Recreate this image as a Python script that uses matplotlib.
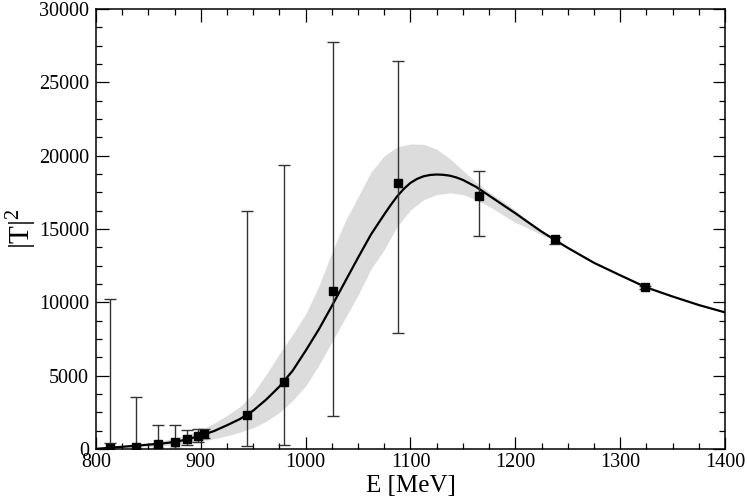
import numpy as np
import matplotlib.pyplot as plt
from matplotlib.ticker import MultipleLocator

plt.rcParams['font.family'] = ['Liberation Serif', 'DejaVu Serif']
plt.rcParams['mathtext.fontset'] = 'custom'
plt.rcParams['mathtext.rm'] = 'Liberation Serif'

# measured points (values and ends of error bars)
E_data = [813, 838, 859, 875, 887, 897, 903, 944, 979, 1026, 1088, 1165, 1238, 1324]
T2_data = [60, 115, 330, 477, 660, 860, 1020, 2318, 4560, 10795, 18114, 17227, 14295, 11023]
T2_hi = [10200, 3560, 1610, 1610, 1280, 1350, 1350, 16227, 19400, 27750, 26455, 18932, 14477, 11130]
T2_lo = [390, 0, 40, 60, 240, 477, 720, 205, 250, 2250, 7932, 14545, 13955, 10920]

# fitted curve
E_fit = [800, 812.5, 825, 837.5, 850, 862.5, 875, 887.5, 900, 912.5, 925, 937.5,
         950, 962.5, 975, 987.5, 1000, 1012.5, 1025, 1037.5, 1050, 1062.5, 1075,
         1081.25, 1087.5, 1093.75, 1100, 1106.25, 1112.5, 1118.75, 1125, 1131.25,
         1137.5, 1143.75, 1150, 1162.5, 1175, 1187.5, 1200,
         1212.5, 1225, 1237.5, 1250, 1275, 1300, 1325, 1350, 1375, 1400]
T2_fit = [10, 80, 150, 225, 295, 370, 480, 660, 920, 1220, 1620, 2050,
          2620, 3380, 4260, 5330, 6700, 8150, 9750, 11400, 13050, 14650, 16000,
          16650, 17250, 17750, 18150, 18420, 18600, 18690, 18720, 18700,
          18640, 18520, 18350, 17880, 17280, 16680, 16080,
          15450, 14830, 14270, 13720, 12700, 11850, 11020, 10400, 9820, 9318]

# uncertainty band
E_band = [800, 825, 850, 875, 900, 912.5, 925, 937.5, 950, 962.5, 975, 987.5,
          1000, 1012.5, 1025, 1037.5, 1050, 1062.5, 1075, 1087.5, 1100, 1112.5,
          1125, 1137.5, 1150, 1162.5, 1175, 1187.5, 1200, 1212.5, 1225, 1237.5, 1250]
band_hi = [40, 200, 400, 720, 1300, 1750, 2300, 2900, 3800, 5100, 6500, 7800,
           9200, 11100, 13400, 15500, 17200, 18900, 20000, 20600, 20800, 20780,
           20450, 19800, 19000, 18200, 17520, 16920, 16300, 15550, 14880, 14270, 13720]
band_lo = [0, 80, 160, 280, 520, 700, 900, 1150, 1450, 1900, 2500, 3300,
           4300, 5700, 7300, 8900, 10500, 12300, 13600, 15200, 16300, 17000,
           17350, 17470, 17350, 17000, 16550, 16000, 15450, 15050, 14600, 14270, 13720]

fig = plt.figure(figsize=(7.47, 5.01), dpi=100)
ax = fig.add_axes([0.1285, 0.1038, 0.842, 0.878])

ax.fill_between(E_band, band_lo, band_hi, color='#dcdcdc', lw=0, zorder=1)
ax.plot(E_fit, T2_fit, color='black', lw=1.6, zorder=2)

# error bars
ax.vlines(E_data, T2_lo, T2_hi, colors='#333333', lw=1.0, zorder=3)
ax.plot(E_data, T2_lo, ls='none', marker='_', ms=9, mew=1.0, color='#333333', zorder=3)
ax.plot(E_data, T2_hi, ls='none', marker='_', ms=9, mew=1.0, color='#333333', zorder=3)
ax.plot(E_data, T2_data, ls='none', marker='s', ms=5.5, color='black', zorder=4)

ax.set_xlim(800, 1400)
ax.set_ylim(0, 30000)
ax.xaxis.set_major_locator(MultipleLocator(100))
ax.xaxis.set_minor_locator(MultipleLocator(25))
ax.yaxis.set_major_locator(MultipleLocator(5000))
ax.yaxis.set_minor_locator(MultipleLocator(1250))
ax.tick_params(which='both', direction='in', top=True, right=True, width=0.9)
ax.tick_params(which='major', length=9, labelsize=14.5)
ax.tick_params(which='minor', length=4.5)
ax.tick_params(axis='y', pad=5)
ax.tick_params(axis='x', pad=3)
for s in ax.spines.values():
    s.set_linewidth(1.1)

ax.set_xlabel('E [MeV]', fontsize=18, labelpad=2)
ax.set_ylabel(r'$\mathregular{|T|^2}$', fontsize=21, labelpad=0)

fig.savefig('out.png', dpi=100)
